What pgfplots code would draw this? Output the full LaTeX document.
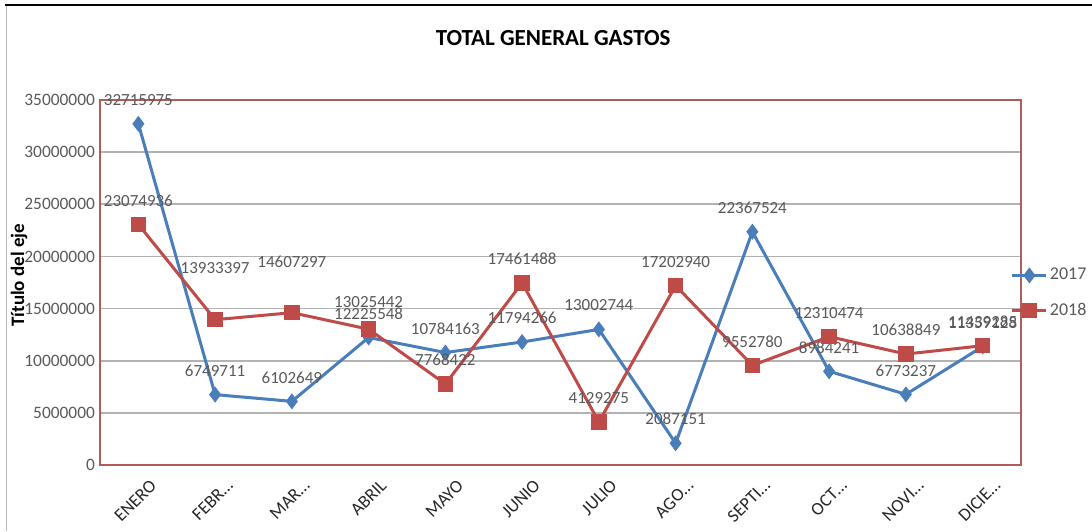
\documentclass[border=0pt]{standalone}
\usepackage{pgfplots}
\pgfplotsset{compat=1.18}
\usepackage{pgfplotstable}
\usepackage{fontspec}
\setmainfont{Carlito}
\definecolor{sblue}{HTML}{4A7EBB}
\definecolor{sred}{HTML}{BE4B48}
\definecolor{framec}{HTML}{B25B5B}
\definecolor{tickgray}{HTML}{595959}

\pgfplotstableread{
x y lab dy
0 32715975 32715975 12
1 6749711 6749711 12
2 6102649 6102649 12
3 12225548 12225548 12
4 10784163 10784163 12
5 11794266 11794266 12
6 13002744 13002744 12
7 2087151 2087151 12
8 22367524 22367524 12
9 8984241 8984241 12
10 6773237 6773237 12
11 11359128 11359128 12
}\dataA

\pgfplotstableread{
x y lab dy
0 23074936 23074936 12
1 13933397 13933397 26
2 14607297 14607297 25.5
3 13025442 13025442 13.5
4 7768422 7768422 12
5 17461488 17461488 12
6 4129275 4129275 12
7 17202940 17202940 12
8 9552780 9552780 12
9 12310474 12310474 12
10 10638849 10638849 12
11 11439285 11439285 12
}\dataB

\begin{document}
\begin{tikzpicture}
\useasboundingbox (0,0) rectangle (546pt,265.5pt);
\fill[black] (2.5pt,262.3pt) rectangle (546pt,263.6pt);
\draw[gray!55, line width=0.7pt] (3.3pt,0) -- (3.3pt,262.3pt);
\begin{axis}[
  at={(50pt,33pt)}, anchor=south west,
  scale only axis, width=460.5pt, height=182.5pt,
  xmin=-0.5, xmax=11.5, ymin=0, ymax=35000000,
  ytick={0,5000000,10000000,15000000,20000000,25000000,30000000,35000000},
  scaled y ticks=false,
  /pgf/number format/assume math mode=true,
  yticklabel style={/pgf/number format/fixed,/pgf/number format/1000 sep={},
    font=\fontsize{8.7}{8.7}\selectfont, color=tickgray, xshift=1pt},
  xtick={0,1,2,3,4,5,6,7,8,9,10,11},
  xticklabels={ENERO,{FEBR\ldots},{MAR\ldots},ABRIL,MAYO,JUNIO,JULIO,{AGO\ldots},{SEPTI\ldots},{OCT\ldots},{NOVI\ldots},{DICIE\ldots}},
  xticklabel style={rotate=45, anchor=north east, font=\fontsize{9}{9}\selectfont, color=black!85, xshift=2.5pt, yshift=-5pt},
  ymajorgrids, grid style={gray!60, line width=0.9pt},
  major tick length=0pt,
  axis line style={framec, line width=1pt},
  ylabel={\textbf{Título del eje}},
  ylabel style={at={(axis description cs:-0.088,0.52)}, anchor=center, font=\fontsize{9.5}{9.5}\selectfont},
  title={\textbf{TOTAL GENERAL GASTOS}},
  title style={at={(axis description cs:0.492,1)}, anchor=center, yshift=25pt, font=\fontsize{11.5}{11.5}\selectfont},
  legend style={at={(axis description cs:0.982,0.471)}, anchor=west, draw=none, fill=none,
    font=\fontsize{9}{9}\selectfont, text=tickgray, row sep=6pt,
    nodes={inner xsep=1pt}},
  legend cell align=left,
  clip=false,
  point meta=explicit symbolic,
  nodes near coords,
  visualization depends on={\thisrow{dy} \as \dy},
  nodes near coords style={anchor=center, yshift=\dy pt, font=\fontsize{8.5}{8.5}\selectfont, color=tickgray},
]
\addplot[color=sblue, line width=1.5pt, mark=diamond*, mark size=3.6pt, mark options={fill=sblue, draw=sblue, line width=0.5pt}]
  table[x=x, y=y, meta=lab] {\dataA};
\addlegendentry{2017}
\addplot[color=sred, line width=1.5pt, mark=square*, mark size=3.6pt, mark options={fill=sred, draw=sred, line width=0.5pt}]
  table[x=x, y=y, meta=lab] {\dataB};
\addlegendentry{2018}
\end{axis}
\end{tikzpicture}
\end{document}
